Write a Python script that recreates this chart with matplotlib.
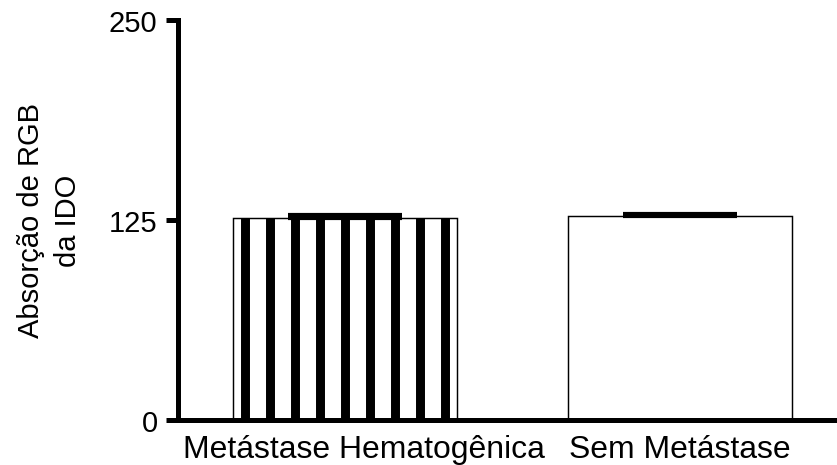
import matplotlib
matplotlib.use("Agg")
import matplotlib.pyplot as plt
from matplotlib.transforms import ScaledTranslation
import numpy as np

# data
groups = ["Metástase Hematogênica", "Sem Metástase"]
means = [125.8, 127.3]
errs = [2.3, 1.6]
striped = [True, False]
yticks = [0, 125, 250]

plt.rcParams["font.family"] = ["Liberation Sans", "DejaVu Sans"]

fig = plt.figure(figsize=(837 / 150, 466 / 150), dpi=150)
ax = fig.add_axes([0.2127, 0.0976, 0.7873, 0.8573])

x = np.arange(len(groups))
bars = ax.bar(x, means, width=0.67, color="white", edgecolor="black",
              linewidth=0.7, zorder=2)

# vertical stripe fill (9 stripes across the bar), clipped to the bar
for b, s in zip(bars, striped):
    if not s:
        continue
    fr = (11.5 + 25 * np.arange(9)) / 224
    xs = b.get_x() + fr * b.get_width()
    ln = ax.vlines(xs, 0, b.get_height(), colors="black", linewidth=4.3,
                   zorder=2.5)
    ln.set_clip_path(b)

ax.errorbar(x, means, yerr=[np.zeros(len(errs)), errs], fmt="none",
            ecolor="black", elinewidth=2, capsize=27.5, capthick=2, zorder=3)

ax.set_xlim(-0.5, 1.47)
ax.set_ylim(0, 250)
ax.set_yticks(yticks)
ax.set_xticks(x)
ax.set_xticklabels(groups)

for s in ["top", "right"]:
    ax.spines[s].set_visible(False)
for s in ["left", "bottom"]:
    ax.spines[s].set_linewidth(2.4)

ax.tick_params(axis="y", length=5.8, width=2.4, labelsize=14, pad=4)
ax.tick_params(axis="x", length=0, labelsize=15.3, pad=7)
ax.set_ylabel("Absorção de RGB\nda IDO", fontsize=14, labelpad=13,
              linespacing=1.4)

# first label sits a bit right of its bar in the reference
lab = ax.get_xticklabels()[0]
lab.set_transform(lab.get_transform() + ScaledTranslation(9 / 72, 0, fig.dpi_scale_trans))

fig.savefig("out.png", dpi=150)
